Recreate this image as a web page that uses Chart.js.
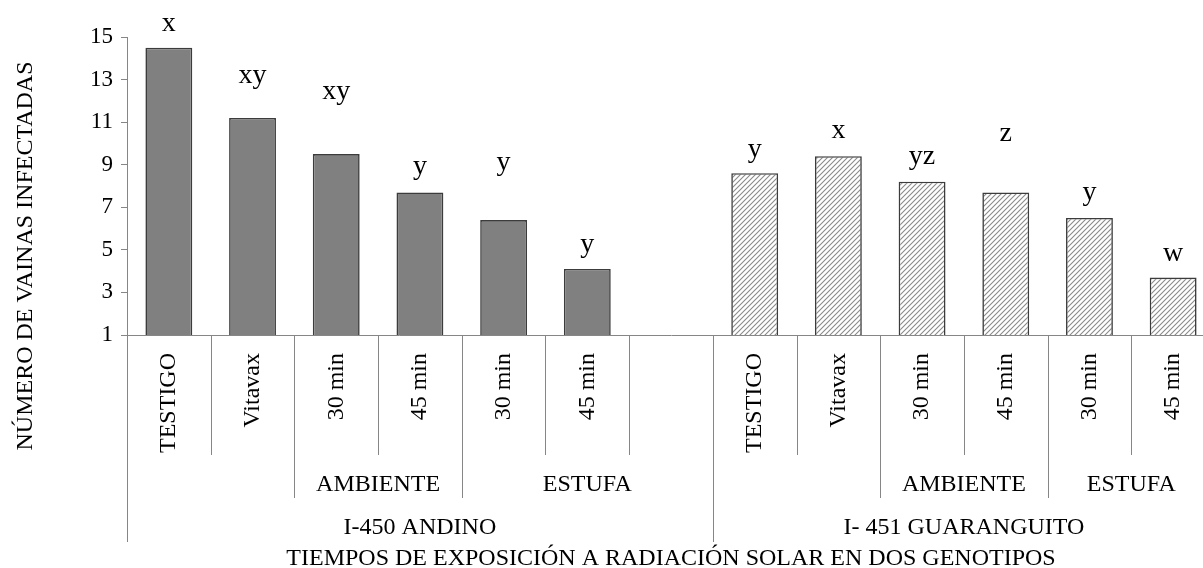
<!DOCTYPE html>
<html lang="es">
<head>
<meta charset="utf-8">
<title>Vainas infectadas</title>
<script src="https://cdn.jsdelivr.net/npm/chart.js@4/dist/chart.umd.min.js"></script>
<style>
  html, body { margin: 0; padding: 0; background: #fff; overflow: hidden; }
  #marco { width: 1232px; height: 568px; }
</style>
</head>
<body>
<div id="marco"><canvas id="grafico" width="1232" height="568"></canvas></div>
<script>
// Tratamientos, métodos de secado y genotipos
const tratamientos = ['TESTIGO', 'Vitavax', '30 min', '45 min', '30 min', '45 min'];
const metodos = ['AMBIENTE', 'ESTUFA'];
const genotipos = ['I-450 ANDINO', 'I- 451 GUARANGUITO'];

// Número de vainas infectadas (medias)
const andino = [14.5, 11.2, 9.5, 7.7, 6.4, 4.1];
const guaranguito = [8.6, 9.4, 8.2, 7.7, 6.5, 3.7];

// Letras de significancia y límite superior donde se escriben
const letrasAndino = ['x', 'xy', 'xy', 'y', 'y', 'y'];
const letrasGuaranguito = ['y', 'x', 'yz', 'z', 'y', 'w'];
const limiteAndino = [15.3, 12.85, 12.1, 8.55, 8.75, 4.9];
const limiteGuaranguito = [9.35, 10.25, 9.05, 10.1, 7.35, 4.5];

const ticksY = [1, 3, 5, 7, 9, 11, 13, 15];

const fuente = '"Liberation Serif", "Times New Roman", serif';
const gris = '#868686';

// 13 posiciones: 6 de Andino, una vacía, 6 de Guaranguito
const etiquetas = [...tratamientos, '', ...tratamientos];
const valores = [...andino, null, ...guaranguito];
const letras = [...letrasAndino, '', ...letrasGuaranguito];
const limites = [...limiteAndino, null, ...limiteGuaranguito];
// posiciones que abarca cada genotipo en el eje
const grupos = [{ desde: 0, hasta: 7 }, { desde: 7, hasta: 13 }];

const lienzo = document.getElementById('grafico');
const ctx0 = lienzo.getContext('2d');

function crearTrama() {
  const c = document.createElement('canvas');
  c.width = 5; c.height = 5;
  const g = c.getContext('2d');
  g.fillStyle = '#fff';
  g.fillRect(0, 0, 5, 5);
  g.strokeStyle = '#8a8a8a';
  g.lineWidth = 1.1;
  g.beginPath();
  g.moveTo(0, 5); g.lineTo(5, 0);
  g.moveTo(-1, 1); g.lineTo(1, -1);
  g.moveTo(4, 6); g.lineTo(6, 4);
  g.stroke();
  return ctx0.createPattern(c, 'repeat');
}
const trama = crearTrama();
const rellenos = valores.map((v, i) => (i < 7 ? '#808080' : trama));

// Eje de categorías en varios niveles, letras y título del eje Y
const ejeCategorias = {
  id: 'ejeCategorias',
  afterDraw(chart) {
    const { ctx, chartArea: area, scales: { x, y } } = chart;
    const paso = (area.right - area.left) / etiquetas.length;
    const borde = k => area.left + k * paso;
    const base = area.bottom;
    const nivel1 = base + 120, nivel2 = base + 163, nivel3 = base + 207;

    ctx.save();
    ctx.strokeStyle = gris;
    ctx.lineWidth = 1;
    const linea = (k, hasta) => {
      const px = Math.round(borde(k)) + 0.5;
      ctx.beginPath();
      ctx.moveTo(px, base);
      ctx.lineTo(px, hasta);
      ctx.stroke();
    };
    for (let k = 0; k <= etiquetas.length; k++) {
      let largo = nivel1;
      grupos.forEach(g => {
        if (k === g.desde || k === g.hasta) largo = nivel3;
        else if (k === g.desde + 2 || k === g.desde + 4) largo = Math.max(largo, nivel2);
      });
      linea(k, largo);
    }

    ctx.fillStyle = '#000';
    // tratamientos en vertical
    ctx.font = '24px ' + fuente;
    etiquetas.forEach((t, i) => {
      if (!t) return;
      ctx.save();
      ctx.translate(x.getPixelForValue(i), base + 18);
      ctx.rotate(-Math.PI / 2);
      ctx.textAlign = 'right';
      ctx.textBaseline = 'middle';
      ctx.fillText(t, 0, 0);
      ctx.restore();
    });

    // métodos y genotipos
    ctx.textAlign = 'center';
    ctx.textBaseline = 'middle';
    grupos.forEach((g, j) => {
      ctx.fillText(metodos[0], (borde(g.desde + 2) + borde(g.desde + 4)) / 2, base + 150);
      ctx.fillText(metodos[1], (borde(g.desde + 4) + borde(g.hasta)) / 2, base + 150);
      ctx.fillText(genotipos[j], (borde(g.desde) + borde(g.hasta)) / 2, base + 193);
    });
    ctx.fillText('TIEMPOS DE EXPOSICIÓN A RADIACIÓN SOLAR EN DOS GENOTIPOS',
      (area.left + area.right) / 2, base + 224);

    // letras de significancia
    ctx.font = '28px ' + fuente;
    ctx.textBaseline = 'alphabetic';
    letras.forEach((l, i) => {
      if (!l) return;
      ctx.fillText(l, x.getPixelForValue(i), y.getPixelForValue(limites[i]));
    });

    // título del eje Y
    ctx.font = '24px ' + fuente;
    ctx.translate(26, 256);
    ctx.rotate(-Math.PI / 2);
    ctx.textBaseline = 'middle';
    ctx.fillText('NÚMERO DE VAINAS INFECTADAS', 0, 0);
    ctx.restore();
  }
};

new Chart(lienzo, {
  type: 'bar',
  data: {
    labels: etiquetas,
    datasets: [{
      data: valores,
      backgroundColor: rellenos,
      borderColor: '#3c3c3c',
      borderWidth: 1.6,
      borderSkipped: false,
      categoryPercentage: 1,
      barPercentage: 0.56
    }]
  },
  options: {
    responsive: false,
    animation: false,
    layout: { padding: { top: 37, right: 17, left: 0, bottom: 0 } },
    scales: {
      x: {
        ticks: { display: false },
        grid: { display: false },
        border: { color: gris },
        afterFit: s => { s.height = 233; }
      },
      y: {
        min: 1,
        max: 15,
        afterBuildTicks: s => { s.ticks = ticksY.map(v => ({ value: v })); },
        ticks: { color: '#000', font: { family: fuente, size: 23 }, padding: 8 },
        grid: { drawOnChartArea: false, tickLength: 6, color: gris },
        border: { color: gris },
        afterFit: s => { s.width = 127; }
      }
    },
    plugins: {
      legend: { display: false },
      tooltip: { enabled: false }
    }
  },
  plugins: [ejeCategorias]
});
</script>
</body>
</html>
